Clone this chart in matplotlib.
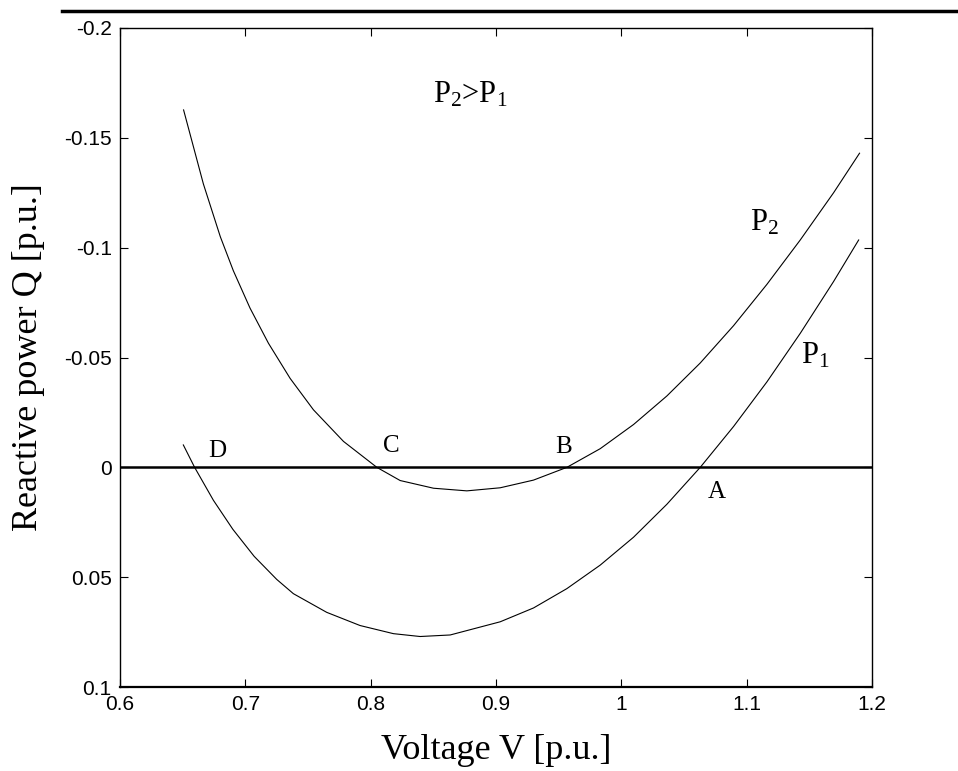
import numpy as np
import matplotlib
matplotlib.use("Agg")
import matplotlib.pyplot as plt
from matplotlib.lines import Line2D

#********************************************#
# curve data (V in p.u., Q in p.u.)
v_p2 = [0.6507, 0.6665, 0.6800, 0.6904, 0.7037, 0.7184, 0.7357, 0.7543, 0.7783, 0.8049,
        0.8235, 0.8501, 0.8767, 0.9033, 0.9299, 0.9565, 0.9831, 1.0097, 1.0363, 1.0629,
        1.0895, 1.1161, 1.1427, 1.1693, 1.1900]
q_p2 = [-0.1627, -0.1290, -0.1050, -0.0895, -0.0725, -0.0565, -0.0405, -0.0262, -0.0118, 0.0,
        0.0060, 0.0095, 0.0107, 0.0093, 0.0058, 0.0, -0.0085, -0.0195, -0.0325, -0.0475,
        -0.0645, -0.0833, -0.1035, -0.1250, -0.1430]

v_p1 = [0.6505, 0.6595, 0.6745, 0.6900, 0.7070, 0.7250, 0.7383, 0.7649, 0.7915, 0.8181,
        0.8394, 0.8634, 0.9033, 0.9299, 0.9565, 0.9831, 1.0097, 1.0363, 1.0629, 1.0895,
        1.1161, 1.1427, 1.1693, 1.1893]
q_p1 = [-0.0102, 0.0, 0.0150, 0.0282, 0.0405, 0.0510, 0.0575, 0.0660, 0.0720, 0.0757,
        0.0770, 0.0763, 0.0703, 0.0640, 0.0552, 0.0445, 0.0318, 0.0168, 0.0, -0.0186,
        -0.0389, -0.0610, -0.0846, -0.1035]

x_ticks = [0.6, 0.7, 0.8, 0.9, 1.0, 1.1, 1.2]
x_ticklabels = ['0.6', '0.7', '0.8', '0.9', '1', '1.1', '1.2']
y_ticks = [-0.2, -0.15, -0.1, -0.05, 0.0, 0.05, 0.1]
y_ticklabels = ['-0.2', '-0.15', '-0.1', '-0.05', '0', '0.05', '0.1']

#********************************************#
plt.rcParams['mathtext.fontset'] = 'custom'
plt.rcParams['mathtext.rm'] = 'Liberation Serif'
plt.rcParams['mathtext.it'] = 'Liberation Serif:italic'
serif = 'Liberation Serif'

fig = plt.figure(figsize=(9.58, 7.71), dpi=100)
ax = fig.add_axes([0.1253, 0.1089, 0.785, 0.8548])

ax.plot(v_p2, q_p2, color='black', linewidth=0.8)
ax.plot(v_p1, q_p1, color='black', linewidth=0.8)
ax.axhline(0, color='black', linewidth=1.8)

ax.set_xlim(0.6, 1.2)
ax.set_ylim(0.1, -0.2)
ax.set_xticks(x_ticks)
ax.set_xticklabels(x_ticklabels)
ax.set_yticks(y_ticks)
ax.set_yticklabels(y_ticklabels)
ax.tick_params(direction='in', length=6, width=0.8, top=True, right=True,
               labelsize=15, pad=6)
for lab in ax.get_xticklabels() + ax.get_yticklabels():
    lab.set_family('Liberation Sans')
for s in ['top', 'right', 'left']:
    ax.spines[s].set_linewidth(1.0)
ax.spines['bottom'].set_linewidth(1.6)

ax.set_xlabel('Voltage V [p.u.]', fontsize=26, family=serif, labelpad=14)
ax.set_ylabel('Reactive power Q [p.u.]', fontsize=26, family=serif, labelpad=14)

# annotations
ax.text(0.879, -0.166, r'P$_2$>P$_1$', fontsize=22, family=serif, ha='center', va='baseline')
ax.text(1.103, -0.108, r'P$_2$', fontsize=22, family=serif, ha='left', va='baseline')
ax.text(1.143, -0.0475, r'P$_1$', fontsize=22, family=serif, ha='left', va='baseline')
ax.text(1.069, 0.0139, 'A', fontsize=18, family=serif, ha='left', va='baseline')
ax.text(0.947, -0.0066, 'B', fontsize=18, family=serif, ha='left', va='baseline')
ax.text(0.810, -0.0070, 'C', fontsize=18, family=serif, ha='left', va='baseline')
ax.text(0.670, -0.0047, 'D', fontsize=18, family=serif, ha='left', va='baseline')

# thick rule across the top of the figure
fig.add_artist(Line2D([62/958, 1.0], [1 - 10.5/771, 1 - 10.5/771], color='black',
                      linewidth=2.5, transform=fig.transFigure))

fig.savefig('out.png', dpi=100)
